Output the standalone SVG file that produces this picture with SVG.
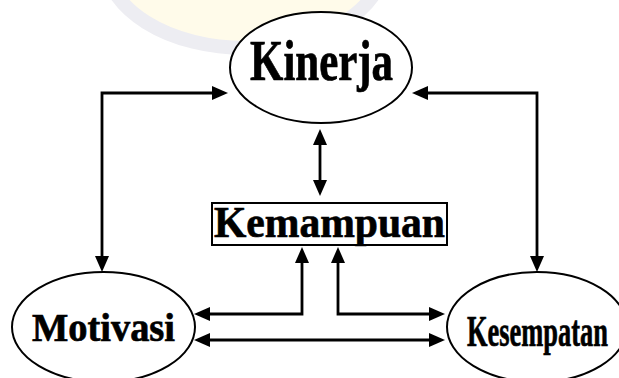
<svg xmlns="http://www.w3.org/2000/svg" width="619" height="378" viewBox="0 0 619 378">
  <defs>
    <marker id="head" markerUnits="userSpaceOnUse" markerWidth="18" markerHeight="16" viewBox="0 -8 18 16" refX="3" refY="0" orient="auto-start-reverse">
      <path d="M0,-7 L16,0 L0,7 z" fill="#000"/>
    </marker>
  </defs>
  <style>
    .node { fill: #fff; stroke: #000; stroke-width: 2; }
    .label { font-family: "Liberation Serif", "Times New Roman", serif; font-weight: bold; fill: #000; stroke: #000; stroke-width: 0.7; }
    .link { fill: none; stroke: #000; stroke-width: 2.8; marker-start: url(#head); marker-end: url(#head); }
  </style>

  <rect width="619" height="378" fill="#fff"/>

  <!-- faint background emblem -->
  <g id="emblem">
    <ellipse cx="245" cy="-40" rx="140" ry="88" fill="#fffbea" stroke="#ededf2" stroke-width="14"/>
  </g>

  <!-- connectors -->
  <g id="connectors">
    <path class="link" d="M102,259 V93 H215"/>
    <path class="link" d="M425,93 H537 V259"/>
    <path class="link" d="M320,142 V183"/>
    <path class="link" d="M207,314 H302 V260"/>
    <path class="link" d="M338,260 V314 H432"/>
    <path class="link" d="M207,340 H432"/>
  </g>

  <g id="kinerja">
    <ellipse class="node" cx="321" cy="67.5" rx="91" ry="55.5"/>
    <text class="label" x="250" y="80" font-size="56" textLength="143" lengthAdjust="spacingAndGlyphs">Kinerja</text>
  </g>

  <g id="kemampuan">
    <rect class="node" x="212" y="203" width="235" height="42"/>
    <text class="label" x="214" y="237" font-size="44" textLength="231" lengthAdjust="spacingAndGlyphs">Kemampuan</text>
  </g>

  <g id="motivasi">
    <ellipse class="node" cx="103.5" cy="327" rx="91.5" ry="55"/>
    <text class="label" x="32" y="341" font-size="41" textLength="143" lengthAdjust="spacingAndGlyphs">Motivasi</text>
  </g>

  <g id="kesempatan">
    <ellipse class="node" cx="537" cy="327" rx="90" ry="55"/>
    <text class="label" x="467" y="346" font-size="44" textLength="141" lengthAdjust="spacingAndGlyphs">Kesempatan</text>
  </g>
</svg>
